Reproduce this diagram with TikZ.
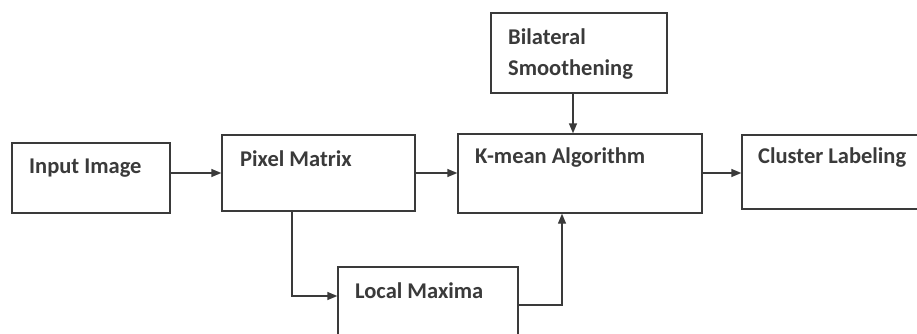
\documentclass[tikz,border=0pt]{standalone}
\usepackage{fontspec}
\setmainfont{Carlito}
\usetikzlibrary{arrows.meta,calc}
\definecolor{ink}{HTML}{3A3A3A}
\tikzset{
  box/.style={draw=ink, line width=1.4pt, fill=white, inner sep=0pt},
  lbl/.style={anchor=west, inner sep=0pt, text=ink, font=\fontsize{22.5}{27}\selectfont\bfseries, align=left},
  conn/.style={draw=ink, line width=1.4pt, -{Triangle[length=10pt,width=8pt]}}
}
\begin{document}
\begin{tikzpicture}[x=1pt,y=-1pt]
\useasboundingbox (0,0) rectangle (917,334);
\clip (0,0) rectangle (917,334);
\node[box, minimum width=158pt, minimum height=70pt] (in) at (91,178) {};
\node[box, minimum width=193pt, minimum height=76pt] (pm) at (318.5,173) {};
\node[box, minimum width=244pt, minimum height=79pt] (km) at (580,173.5) {};
\node[box, minimum width=176pt, minimum height=80pt] (bs) at (579,53) {};
\node[box, minimum width=200pt, minimum height=74pt] (cl) at (842,172) {};
\node[box, minimum width=180pt, minimum height=83pt] (lm) at (428,308.5) {};
\node[lbl] (tin) at (29,168) {Input Image};
\node[lbl] (tpm) at (240,159) {Pixel Matrix};
\node[lbl] (tkm) at (475,158) {K-mean Algorithm};
\node[lbl] (tbs1) at (508,37) {Bilateral};
\node[lbl] (tbs2) at (508,70) {Smoothening};
\node[lbl] (tcl) at (758,158) {Cluster Labeling};
\node[lbl] (tlm) at (355,291) {Local Maxima};
\coordinate (bsout) at ([xshift=-6pt]bs.south);
\coordinate (pmdown) at ([xshift=-26.5pt]pm.south);
\coordinate (lmout) at ([yshift=3.5pt]lm.east);
\coordinate (kmin) at ([xshift=-18pt]km.south);
\draw[conn] (in.east |- pm) -- (pm.west);
\draw[conn] (pm.east) -- (pm.east -| km.west);
\draw[conn] (km.east |- pm) -- (pm -| cl.west);
\draw[conn] (bsout) -- (bsout |- km.north);
\draw[conn] (pmdown) |- ([yshift=12.5pt]lm.west);
\draw[conn] (lmout) -| (kmin);
\end{tikzpicture}
\end{document}
